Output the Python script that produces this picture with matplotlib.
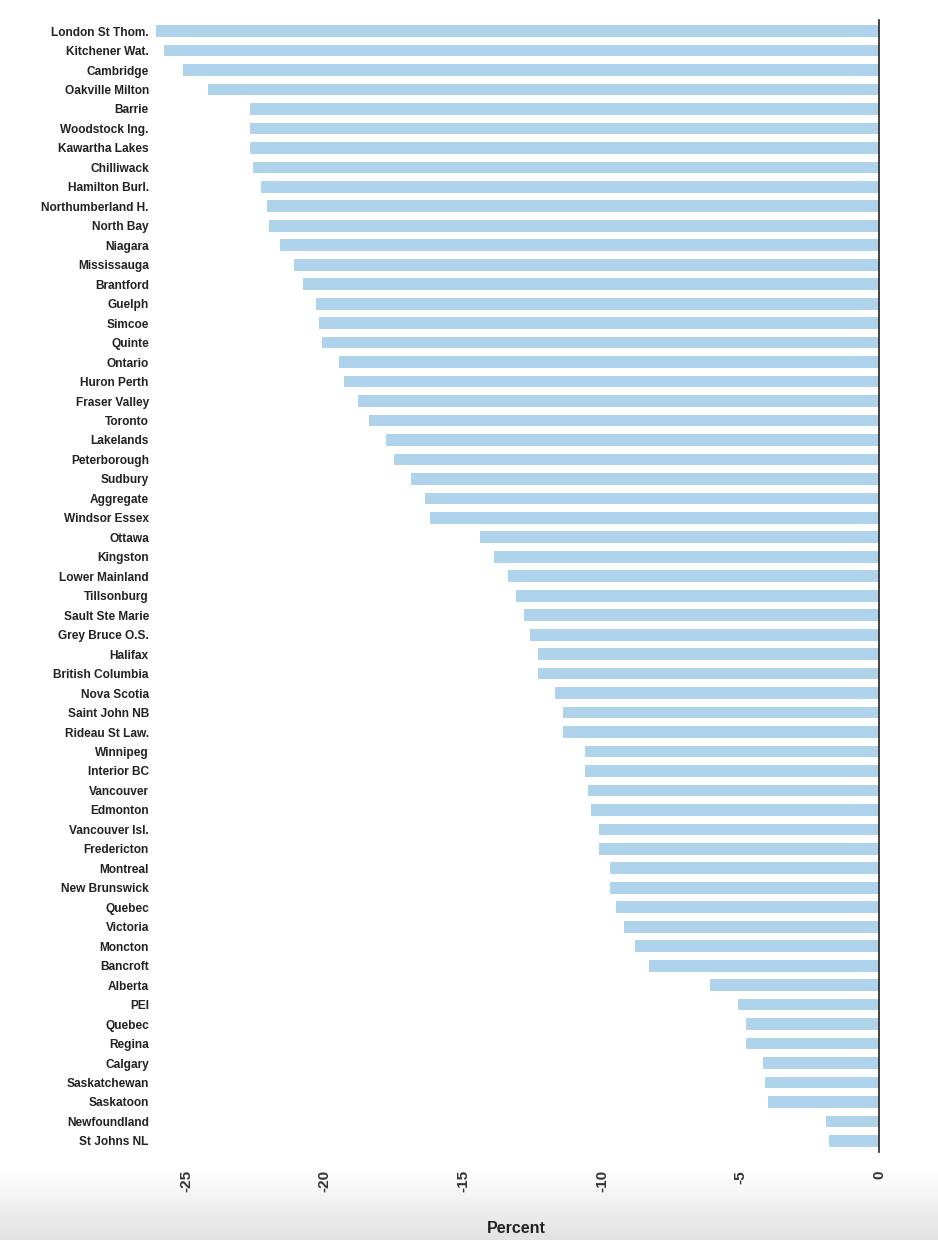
import numpy as np
import matplotlib
matplotlib.use("Agg")
import matplotlib.pyplot as plt

plt.rcParams['font.family'] = ['Liberation Sans', 'DejaVu Sans']

# regions, top to bottom
regions = ["London St Thom.", "Kitchener Wat.", "Cambridge", "Oakville Milton", "Barrie",
           "Woodstock Ing.", "Kawartha Lakes", "Chilliwack", "Hamilton Burl.", "Northumberland H.",
           "North Bay", "Niagara", "Mississauga", "Brantford", "Guelph", "Simcoe", "Quinte",
           "Ontario", "Huron Perth", "Fraser Valley", "Toronto", "Lakelands", "Peterborough",
           "Sudbury", "Aggregate", "Windsor Essex", "Ottawa", "Kingston", "Lower Mainland",
           "Tillsonburg", "Sault Ste Marie", "Grey Bruce O.S.", "Halifax", "British Columbia",
           "Nova Scotia", "Saint John NB", "Rideau St Law.", "Winnipeg", "Interior BC",
           "Vancouver", "Edmonton", "Vancouver Isl.", "Fredericton", "Montreal", "New Brunswick",
           "Quebec", "Victoria", "Moncton", "Bancroft", "Alberta", "PEI", "Quebec", "Regina",
           "Calgary", "Saskatchewan", "Saskatoon", "Newfoundland", "St Johns NL"]

pct = [-26.1, -25.8, -25.1, -24.2, -22.7, -22.7, -22.7, -22.6, -22.3, -22.1,
       -22.0, -21.6, -21.1, -20.8, -20.3, -20.2, -20.1, -19.5, -19.3, -18.8,
       -18.4, -17.8, -17.5, -16.9, -16.4, -16.2, -14.4, -13.9, -13.4, -13.1,
       -12.8, -12.6, -12.3, -12.3, -11.7, -11.4, -11.4, -10.6, -10.6, -10.5,
       -10.4, -10.1, -10.1, -9.7, -9.7, -9.5, -9.2, -8.8, -8.3, -6.1,
       -5.1, -4.8, -4.8, -4.2, -4.1, -4.0, -1.9, -1.8]

xticks = [-25, -20, -15, -10, -5, 0]

fig = plt.figure(figsize=(9.38, 12.4), dpi=100)

# faint grey fade at the bottom of the screenshot
bg = fig.add_axes([0, 0, 1, 70 / 1240], zorder=-5)
grad = np.linspace(0, 1, 100).reshape(-1, 1)
bg.imshow(grad, aspect='auto', cmap=matplotlib.colors.LinearSegmentedColormap.from_list(
    'fade', ['#e2e2e2', '#ffffff']), origin='lower', extent=[0, 1, 0, 1])
bg.axis('off')

ax = fig.add_axes([153 / 938, 1 - 1152 / 1240, 726 / 938, (1152 - 20) / 1240])
ax.patch.set_alpha(0)

y = np.arange(len(regions))
ax.barh(y, pct, height=0.6, color='#aed3ea')

ax.set_ylim(len(regions) - 0.43, -0.57)
ax.set_xlim(-26.2, 0)
ax.set_yticks(y)
ax.set_yticklabels(regions, fontsize=8.6, fontweight='bold', color='#222222')
ax.set_xticks(xticks)
ax.set_xticklabels([str(t) for t in xticks], rotation=90, fontsize=11,
                   fontweight='bold', color='#333333')
ax.tick_params(axis='both', length=0)
ax.tick_params(axis='y', pad=3)
ax.tick_params(axis='x', pad=13)

for s in ['top', 'left', 'bottom']:
    ax.spines[s].set_visible(False)
ax.spines['right'].set_color('#222222')
ax.spines['right'].set_linewidth(1.2)

ax.set_xlabel('Percent', fontsize=11.5, fontweight='bold', color='#222222', labelpad=21)

fig.savefig('out.png', dpi=100)
